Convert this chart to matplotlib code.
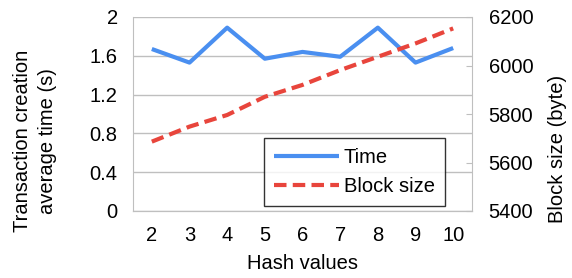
import matplotlib
matplotlib.use("Agg")
import matplotlib.pyplot as plt

hash_values = [2, 3, 4, 5, 6, 7, 8, 9, 10]
time_s = [1.67, 1.53, 1.89, 1.57, 1.64, 1.59, 1.89, 1.53, 1.68]
block_size = [5686, 5748, 5796, 5871, 5920, 5981, 6036, 6091, 6153]
left_ticks = [0, 0.4, 0.8, 1.2, 1.6, 2]
left_labels = ["0", "0.4", "0.8", "1.2", "1.6", "2"]
right_ticks = [5400, 5600, 5800, 6000, 6200]

plt.rcParams['font.family'] = ['Liberation Sans', 'DejaVu Sans']
fs = 14.5

fig = plt.figure(figsize=(5.72, 2.78), dpi=100)
ax = fig.add_axes([133/572, 1-211/278, (472-133)/572, (211-17)/278])
ax2 = ax.twinx()

l1, = ax.plot(hash_values, time_s, color='#4a8ff0', lw=3, solid_capstyle='butt', zorder=3)
l2, = ax2.plot(hash_values, block_size, color='#e8453c', lw=3, ls=(0, (3, 1.5)), zorder=3)

ax.set_xlim(1.5, 10.5)
ax.set_ylim(0, 2)
ax2.set_ylim(5400, 6200)
ax.set_yticks(left_ticks)
ax.set_yticklabels(left_labels)
ax2.set_yticks(right_ticks)
ax.set_xticks(hash_values)
ax.grid(axis='y', color='#bfbfbf', lw=1)
ax.set_axisbelow(True)

for a in (ax, ax2):
    a.spines['top'].set_visible(False)
    for s in ('left', 'right', 'bottom'):
        a.spines[s].set_color('#bfbfbf')
    a.tick_params(length=0, labelsize=fs, colors='black')
ax.tick_params(axis='y', pad=11)
ax.tick_params(axis='x', pad=11)
ax2.tick_params(axis='y', pad=12, length=4, direction='in', color='#bfbfbf')
ax2.spines['left'].set_visible(False)
ax.spines['right'].set_visible(False)

ax.set_xlabel("Hash values", fontsize=fs, labelpad=6)
ax.set_ylabel("Transaction creation\naverage time (s)", fontsize=fs,
              linespacing=1.35)
ax.yaxis.set_label_coords(-0.225, 0.36)
ax2.set_ylabel("Block size (byte)", fontsize=fs)
ax2.yaxis.set_label_coords(1.225, 0.32)

leg = ax2.legend([l1, l2], ["Time", "Block size"], loc='lower right',
                 bbox_to_anchor=((445-133)/339, (211-206)/194),
                 fontsize=fs, frameon=True, fancybox=False, handlelength=3.2,
                 borderpad=0.5, labelspacing=0.5, handletextpad=0.25, borderaxespad=0)
leg.get_frame().set_edgecolor('black')
leg.get_frame().set_linewidth(1)

fig.savefig("out.png", dpi=100)
